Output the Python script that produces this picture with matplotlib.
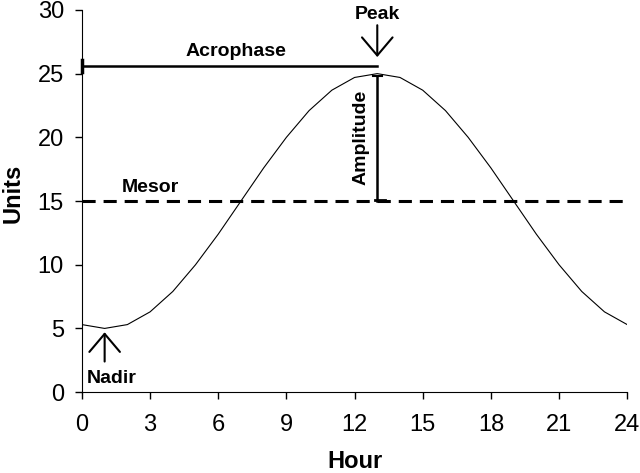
import matplotlib
matplotlib.use("Agg")
import matplotlib.pyplot as plt

plt.rcParams['font.family'] = ['Liberation Sans', 'DejaVu Sans']

# hourly values
hours = list(range(25))
units = [5.3, 5.0, 5.3, 6.3, 7.9, 10.0, 12.4, 15.0, 17.6, 20.0, 22.1, 23.7, 24.7,
         25.0, 24.7, 23.7, 22.1, 20.0, 17.6, 15.0, 12.4, 10.0, 7.9, 6.3, 5.3]
mesor = 15
peak_hour = 13
peak_value = 25
nadir_hour = 1
nadir_value = 5
x_ticks = [0, 3, 6, 9, 12, 15, 18, 21, 24]
y_ticks = [0, 5, 10, 15, 20, 25, 30]

fig = plt.figure(figsize=(6.4, 4.73), dpi=100)
ax = fig.add_axes([0.128, 0.171, 0.852, 0.808])

ax.plot(hours, units, color='black', lw=0.8)

# mesor
ax.plot([0, 24], [mesor, mesor], color='black', lw=2.2, dashes=(4.3, 2.6))
ax.text(3.0, 16.1, 'Mesor', fontsize=14, fontweight='bold', ha='center', va='center')

# acrophase
ax.plot([0, peak_hour], [25.6, 25.6], color='black', lw=1.8)
ax.plot([0, 0], [25.15, 26.05], color='black', lw=2.5, clip_on=False)
ax.text(6.8, 26.75, 'Acrophase', fontsize=14, fontweight='bold', ha='center', va='center')

# amplitude
ax.plot([peak_hour, peak_hour], [mesor, 24.8], color='black', lw=1.8)
ax.plot([peak_hour - 0.2, peak_hour + 0.2], [24.8, 24.8], color='black', lw=1.5)
ax.plot([peak_hour - 0.1, peak_hour + 0.35], [mesor + 0.05, mesor + 0.05], color='black', lw=2)
ax.text(12.3, 20.0, 'Amplitude', fontsize=14, fontweight='bold', rotation=90,
        ha='center', va='center')

# peak / nadir arrows
arrow = dict(arrowstyle='->, head_length=0.65, head_width=0.55', color='black',
             lw=1.5, mutation_scale=20, shrinkA=0, shrinkB=0)
ax.annotate('', xy=(peak_hour, 26.3), xytext=(peak_hour, 28.8), arrowprops=arrow)
ax.text(peak_hour, 29.65, 'Peak', fontsize=14, fontweight='bold', ha='center', va='center')
ax.annotate('', xy=(nadir_hour, nadir_value - 0.3), xytext=(nadir_hour, 2.4), arrowprops=arrow)
ax.text(1.3, 1.1, 'Nadir', fontsize=14, fontweight='bold', ha='center', va='center')

ax.set_xlim(0, 24)
ax.set_ylim(0, 30)
ax.set_xticks(x_ticks)
ax.set_yticks(y_ticks)
ax.tick_params(labelsize=17, length=5, width=1, direction='out')
ax.tick_params(axis='x', pad=11)
ax.tick_params(axis='y', pad=8)
ax.spines['top'].set_visible(False)
ax.spines['right'].set_visible(False)
ax.set_xlabel('Hour', fontsize=17, fontweight='bold', labelpad=10)
ax.set_ylabel('Units', fontsize=17, fontweight='bold', labelpad=1)
ax.yaxis.set_label_coords(-0.105, 0.52)

fig.savefig('out.png', dpi=100)
